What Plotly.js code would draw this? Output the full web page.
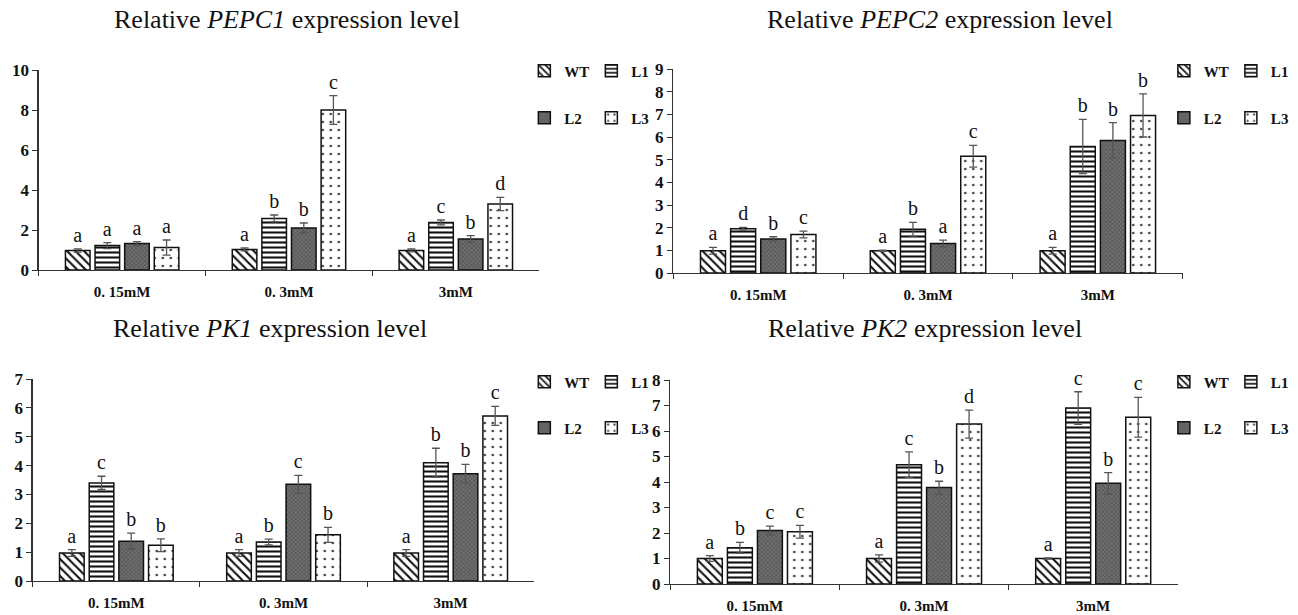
<!DOCTYPE html>
<html>
<head>
<meta charset="utf-8">
<script src="https://cdn.plot.ly/plotly-3.0.1.min.js"></script>
<style>html,body{margin:0;padding:0;background:#fff;}#chart{width:1298px;height:615px;}</style>
</head>
<body>
<div id="chart"></div>
<script>
// ---- data ----
const doses = ['0. 15mM', '0. 3mM', '3mM'];
const lineNames = ['WT', 'L1', 'L2', 'L3'];
const genes = ['PEPC1', 'PEPC2', 'PK1', 'PK2'];

// rows = WT, L1, L2, L3 ; columns = doses
const pepc1Mean = [[0.97, 1.03, 0.98], [1.22, 2.58, 2.38], [1.32, 2.10, 1.55], [1.12, 8.00, 3.30]];
const pepc1Err  = [[0.08, 0.07, 0.07], [0.15, 0.17, 0.12], [0.10, 0.25, 0.17], [0.38, 0.72, 0.33]];
const pepc1Sig  = [['a','a','a'], ['a','b','c'], ['a','b','b'], ['a','c','d']];

const pepc2Mean = [[0.98, 0.98, 0.98], [1.95, 1.93, 5.58], [1.50, 1.30, 5.85], [1.70, 5.15, 6.95]];
const pepc2Err  = [[0.15, 0.03, 0.15], [0.06, 0.30, 1.20], [0.10, 0.15, 0.78], [0.15, 0.48, 0.95]];
const pepc2Sig  = [['a','a','a'], ['d','b','b'], ['b','a','b'], ['c','c','b']];

const pk1Mean = [[0.97, 0.97, 0.97], [3.40, 1.35, 4.10], [1.38, 3.35, 3.72], [1.24, 1.60, 5.72]];
const pk1Err  = [[0.12, 0.12, 0.12], [0.23, 0.10, 0.50], [0.28, 0.31, 0.32], [0.22, 0.26, 0.33]];
const pk1Sig  = [['a','a','a'], ['c','b','b'], ['b','c','b'], ['b','b','c']];

const pk2Mean = [[1.00, 1.00, 1.00], [1.42, 4.68, 6.90], [2.10, 3.78, 3.95], [2.05, 6.27, 6.54]];
const pk2Err  = [[0.11, 0.14, 0.02], [0.21, 0.50, 0.64], [0.17, 0.25, 0.42], [0.25, 0.55, 0.78]];
const pk2Sig  = [['a','a','a'], ['b','c','c'], ['c','b','b'], ['c','d','c']];

const yMaxes = [10, 9, 7, 8];
const yTicks = [2, 1, 1, 1];

// ---- styling / layout ----
const means = [pepc1Mean, pepc2Mean, pk1Mean, pk2Mean];
const errs = [pepc1Err, pepc2Err, pk1Err, pk2Err];
const sigs = [pepc1Sig, pepc2Sig, pk1Sig, pk2Sig];

const W = 1298, H = 615;
const px = v => v / W, py = v => 1 - v / H;
const domains = [
  {x: [px(39), px(543)], y: [py(270), py(70)]},
  {x: [px(678), px(1191)], y: [py(273), py(69)]},
  {x: [px(33), px(538)], y: [py(581), py(379)]},
  {x: [px(675), px(1186)], y: [py(584), py(380)]}
];
const titleCenters = [[289, 20], [947, 20], [272, 328], [931, 328]];
const legendPos = [[528, 71, 118], [1172, 71, 118], [528, 382, 428], [1172, 382, 428]];

const markerStyles = [
  {color: 'white', line: {color: '#111', width: 1.5}, pattern: {shape: '\\', fgcolor: '#111', bgcolor: 'white', size: 6, solidity: 0.35}},
  {color: 'white', line: {color: '#111', width: 1.5}, pattern: {shape: '-', fgcolor: '#111', bgcolor: 'white', size: 5, solidity: 0.42}},
  {color: '#5e5e5e', line: {color: '#111', width: 1.5}, pattern: {shape: 'x', fgcolor: '#444', bgcolor: '#6e6e6e', size: 3, solidity: 0.3}},
  {color: 'white', line: {color: '#111', width: 1.5}, pattern: {shape: '.', fgcolor: '#444', bgcolor: 'white', size: 8, solidity: 0.09}}
];

const xTickFont = {family: 'Liberation Serif', size: 15, color: '#111', weight: 'bold'};
const yTickFont = {family: 'Liberation Serif', size: 17, color: '#111', weight: 'bold'};
const traces = [];
const layout = {
  width: W, height: H, margin: {l: 0, r: 0, t: 0, b: 0},
  paper_bgcolor: 'white', plot_bgcolor: 'white',
  barmode: 'group', bargap: 0.29, bargroupgap: 0.17,
  annotations: [], showlegend: true
};

for (let p = 0; p < 4; p++) {
  const sfx = p === 0 ? '' : String(p + 1);
  const xa = 'x' + sfx, ya = 'y' + sfx;
  for (let s = 0; s < 4; s++) {
    const k = 2 * p + (s < 2 ? 0 : 1);
    const legId = 'legend' + (k === 0 ? '' : String(k + 1));
    traces.push({
      type: 'bar', x: doses, y: means[p][s], name: lineNames[s],
      xaxis: xa, yaxis: ya, offsetgroup: lineNames[s], legend: legId,
      marker: markerStyles[s],
      error_y: {type: 'data', array: errs[p][s], visible: true, color: '#555', thickness: 1.3, width: 4},
      hoverinfo: 'skip'
    });
    traces.push({
      type: 'bar', x: doses, y: means[p][s].map(() => 1e-6),
      base: means[p][s].map((m, i) => m + errs[p][s][i]),
      xaxis: xa, yaxis: ya, offsetgroup: lineNames[s], showlegend: false,
      marker: {color: 'rgba(0,0,0,0)', line: {width: 0}},
      text: sigs[p][s], textposition: 'outside', cliponaxis: false, constraintext: 'none',
      outsidetextfont: {family: 'Liberation Serif', size: 20, color: '#111'},
      hoverinfo: 'skip'
    });
  }
  layout['xaxis' + sfx] = {
    domain: domains[p].x, anchor: ya, type: 'category',
    showline: true, linecolor: '#333', linewidth: 1.3, ticks: 'outside', tickson: 'boundaries',
    ticklen: 5, tickcolor: '#333', tickfont: xTickFont, ticklabelstandoff: 8,
    showgrid: false, zeroline: false, fixedrange: true
  };
  layout['yaxis' + sfx] = {
    domain: domains[p].y, anchor: xa, range: [0, yMaxes[p]], dtick: yTicks[p],
    showline: true, linecolor: '#333', linewidth: 1.3, ticks: 'outside', ticklen: 5, tickcolor: '#333',
    tickfont: yTickFont, showgrid: false, zeroline: false, fixedrange: true
  };
  layout.annotations.push({
    xref: 'paper', yref: 'paper', x: px(titleCenters[p][0]), y: py(titleCenters[p][1]),
    xanchor: 'center', yanchor: 'middle', showarrow: false,
    text: 'Relative <i>' + genes[p] + '</i> expression level',
    font: {family: 'Liberation Serif', size: 26, color: '#111'}
  });
  for (let r = 0; r < 2; r++) {
    const k = 2 * p + r;
    layout['legend' + (k === 0 ? '' : String(k + 1))] = {
      x: px(legendPos[p][0]), y: py(legendPos[p][1 + r]), xanchor: 'left', yanchor: 'middle',
      orientation: 'h', bgcolor: 'rgba(0,0,0,0)', borderwidth: 0,
      font: {family: 'Liberation Serif', size: 15, color: '#111', weight: 'bold'},
      itemwidth: 30, entrywidth: 22, entrywidthmode: 'pixels', tracegroupgap: 0
    };
  }
}

Plotly.newPlot('chart', traces, layout, {staticPlot: true});
</script>
</body>
</html>
